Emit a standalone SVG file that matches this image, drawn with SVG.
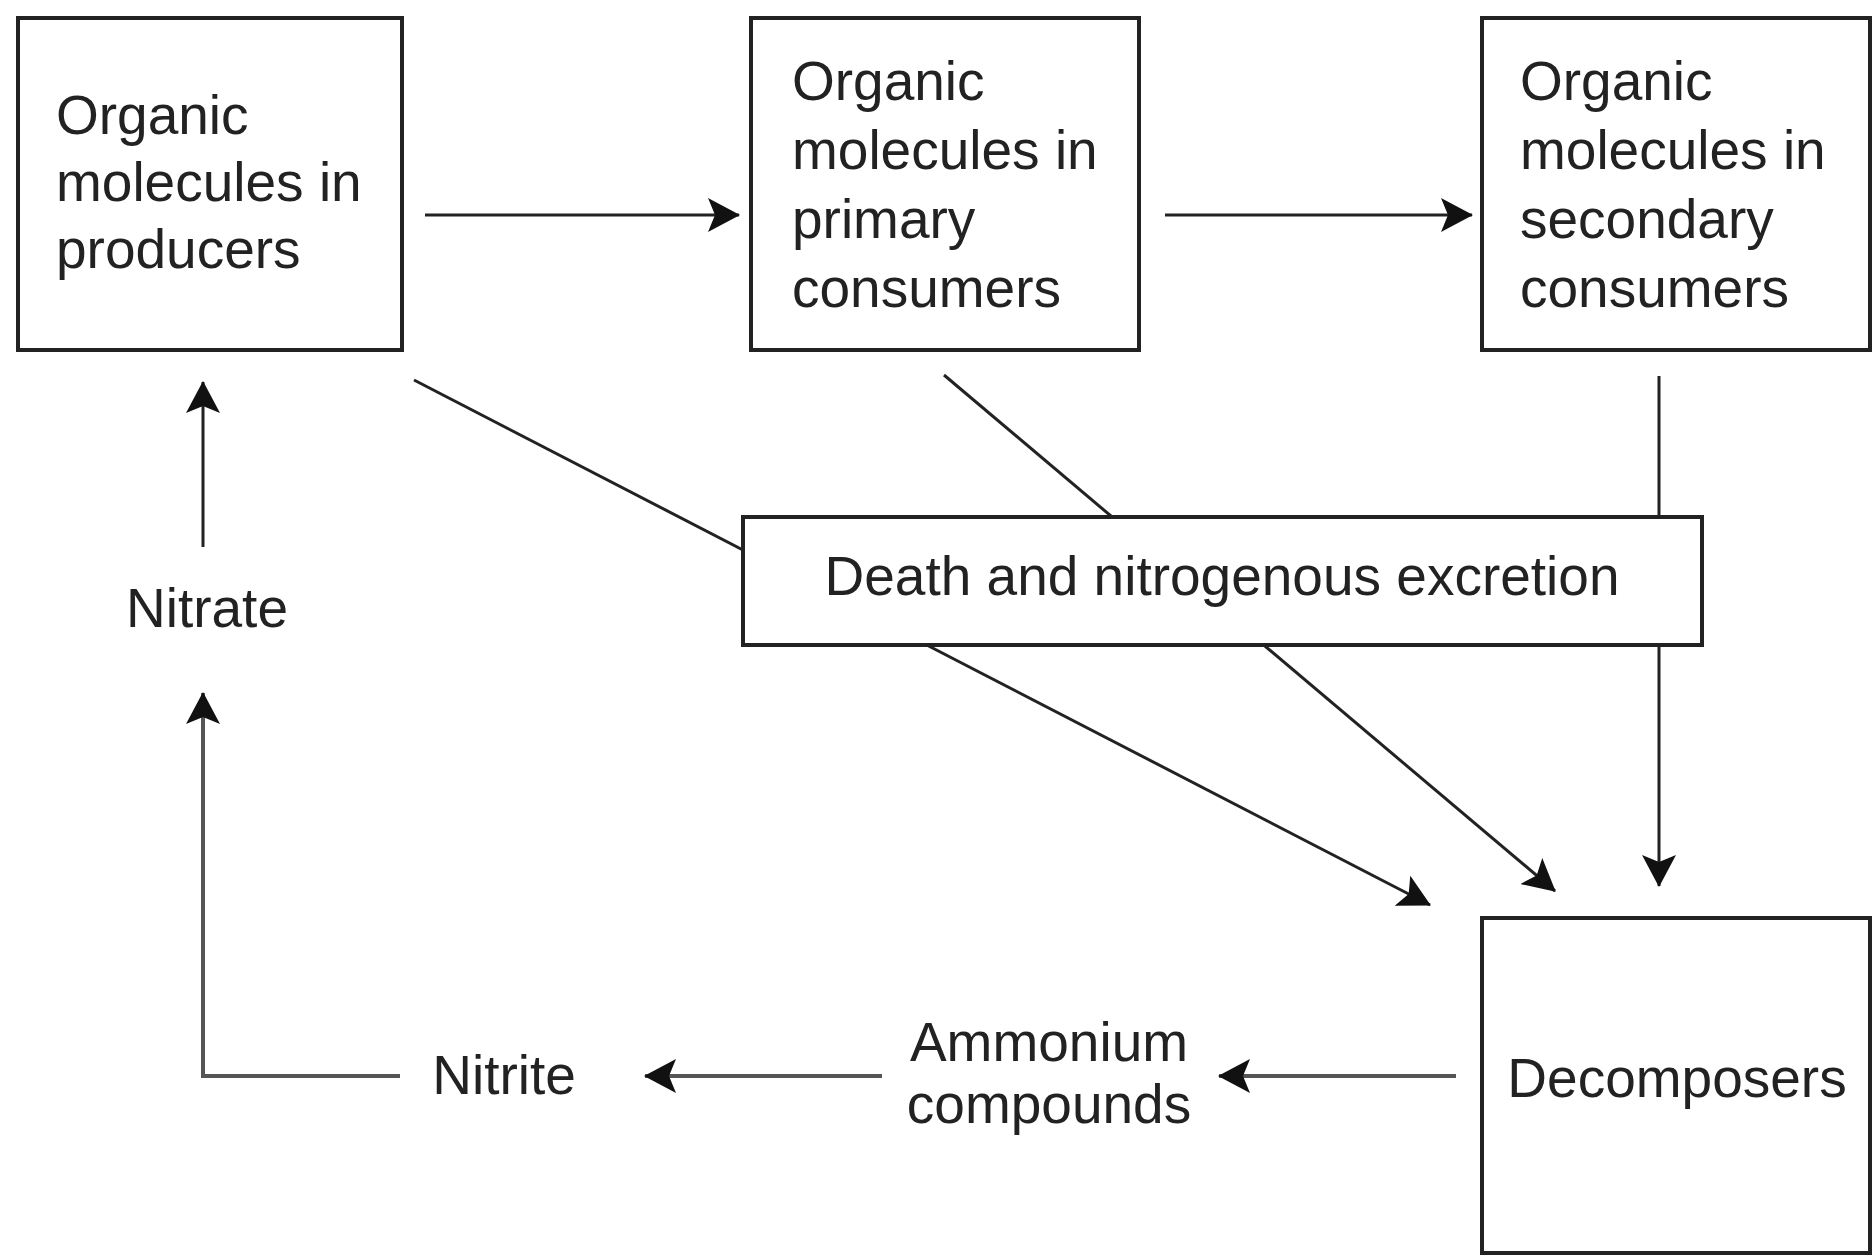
<svg xmlns="http://www.w3.org/2000/svg" width="1874" height="1255" viewBox="0 0 1874 1255">
<style>
.box{fill:#fff;stroke:#222;stroke-width:4}
.t{font-family:"Liberation Sans",Arial,sans-serif;font-size:55px;fill:#222}
.c{fill:none;stroke:#222;stroke-width:3}
.g{fill:none;stroke:#555;stroke-width:4}
</style>
<defs>
<marker id="ah" viewBox="0 0 32 34" refX="31" refY="17" markerWidth="32" markerHeight="34" markerUnits="userSpaceOnUse" orient="auto">
<path d="M0,0 L32,17 L0,34 L7,17 z" fill="#111"/>
</marker>
</defs>
<rect width="1874" height="1255" fill="#fff"/>
<g id="connectors">
<line class="c" x1="425" y1="215" x2="739" y2="215" marker-end="url(#ah)"/>
<line class="c" x1="1165" y1="215" x2="1472" y2="215" marker-end="url(#ah)"/>
<line class="c" x1="414" y1="380" x2="1430" y2="905" marker-end="url(#ah)"/>
<line class="c" x1="944" y1="375" x2="1555" y2="891" marker-end="url(#ah)"/>
<line class="c" x1="1659" y1="376" x2="1659" y2="886" marker-end="url(#ah)"/>
<line class="g" x1="1456" y1="1076" x2="1219" y2="1076" marker-end="url(#ah)"/>
<line class="g" x1="882" y1="1076" x2="645" y2="1076" marker-end="url(#ah)"/>
<polyline class="g" points="400,1076 203,1076 203,693" marker-end="url(#ah)"/>
<line class="c" x1="203" y1="547" x2="203" y2="382" marker-end="url(#ah)"/>
</g>
<g id="producers">
<rect class="box" x="18" y="18" width="384" height="332"/>
<text class="t" x="56" y="134">Organic</text>
<text class="t" x="56" y="201">molecules in</text>
<text class="t" x="56" y="268">producers</text>
</g>
<g id="primary">
<rect class="box" x="751" y="18" width="388" height="332"/>
<text class="t" x="792" y="100">Organic</text>
<text class="t" x="792" y="169">molecules in</text>
<text class="t" x="792" y="238">primary</text>
<text class="t" x="792" y="307">consumers</text>
</g>
<g id="secondary">
<rect class="box" x="1482" y="18" width="388" height="332"/>
<text class="t" x="1520" y="100">Organic</text>
<text class="t" x="1520" y="169">molecules in</text>
<text class="t" x="1520" y="238">secondary</text>
<text class="t" x="1520" y="307">consumers</text>
</g>
<g id="death">
<rect class="box" x="743" y="517" width="959" height="128"/>
<text class="t" x="1222" y="595" text-anchor="middle">Death and nitrogenous excretion</text>
</g>
<g id="decomposers">
<rect class="box" x="1482" y="918" width="388" height="335"/>
<text class="t" x="1677" y="1097" text-anchor="middle">Decomposers</text>
</g>
<g id="nitrate">
<text class="t" x="207" y="627" text-anchor="middle">Nitrate</text>
</g>
<g id="nitrite">
<text class="t" x="504" y="1094" text-anchor="middle">Nitrite</text>
</g>
<g id="ammonium">
<text class="t" x="1049" y="1061" text-anchor="middle">Ammonium</text>
<text class="t" x="1049" y="1123" text-anchor="middle">compounds</text>
</g>
</svg>
